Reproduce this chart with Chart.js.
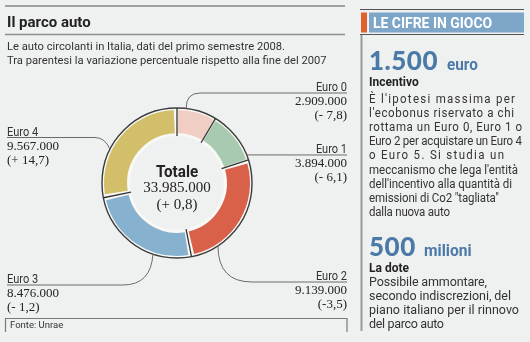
<!DOCTYPE html>
<html>
<head>
<meta charset="utf-8">
<script src="https://cdn.jsdelivr.net/npm/chart.js@4/dist/chart.umd.min.js"></script>
<style>
  html, body { margin: 0; padding: 0; background: #eff1f0; }
  #wrap { position: relative; width: 530px; height: 342px; overflow: hidden; }
  #torta, #testi { position: absolute; left: 0; top: 0; }
</style>
</head>
<body>
<div id="wrap">
  <canvas id="torta" width="350" height="342"></canvas>
  <svg id="testi" width="530" height="342" xmlns="http://www.w3.org/2000/svg"></svg>
</div>
<script>
// dati del grafico
const categorie = ['Euro 0', 'Euro 1', 'Euro 2', 'Euro 3', 'Euro 4'];
const valori = [2909000, 3894000, 9139000, 8476000, 9567000];
const variazioni = ['(- 7,8)', '(- 6,1)', '(-3,5)', '(- 1,2)', '(+ 14,7)'];
const variazioneTotale = '(+ 0,8)';

const titolo = 'Il parco auto';
const sottotitolo = [
  'Le auto circolanti in Italia, dati del primo semestre 2008.',
  'Tra parentesi la variazione percentuale rispetto alla fine del 2007'
];
const fonte = 'Fonte: Unrae';

const box = {
  testata: 'LE CIFRE IN GIOCO',
  cifra1: '1.500', unita1: 'euro', titolo1: 'Incentivo',
  testo1: [
    "È l'ipotesi massima per",
    "l'ecobonus riservato a chi",
    'rottama un Euro 0, Euro 1 o',
    'Euro 2 per acquistare un Euro 4',
    'o Euro 5. Si studia un',
    "meccanismo che lega l'entità",
    "dell'incentivo alla quantità di",
    'emissioni di Co2 "tagliata"',
    'dalla nuova auto'
  ],
  cifra2: '500', unita2: 'milioni', titolo2: 'La dote',
  testo2: [
    'Possibile ammontare,',
    'secondo indiscrezioni, del',
    'piano italiano per il rinnovo',
    'del parco auto'
  ]
};

const colori = ['#f0cec3', '#a8cab0', '#d9614a', '#86b2cf', '#d3be6a'];

// impaginazione: raccordi, etichette, larghezza delle righe di testo
const guide = [
  { ang: 7,     ctrl: [186, 93],  angolo: [200, 93],  fine: [347, 93],  lato: 'dx' },
  { ang: 68,    ctrl: null,       angolo: null,       fine: [347, 155], lato: 'dx' },
  { ang: 146.9, ctrl: [218, 282], angolo: [252, 282], fine: [347, 282], lato: 'dx' },
  { ang: 198.7, ctrl: [151, 285], angolo: [123, 285], fine: [7, 285],   lato: 'sx' },
  { ang: 296.7, ctrl: [105, 137.5], angolo: [95, 137.5], fine: [7, 137.5], lato: 'sx' }
];
const largh1 = [146, 145, 153, 153, 135, 149, 143, 130, 81];
const largh2 = [118, 142, 150, 75];

const fmt = v => v.toLocaleString('it-IT');

const decorTorta = {
  id: 'decorTorta',
  beforeDatasetsDraw(chart) {
    const a = chart.getDatasetMeta(0).data[0];
    const { x, y, innerRadius, outerRadius } = a.getProps(['x', 'y', 'innerRadius', 'outerRadius'], true);
    const ctx = chart.ctx;
    const r2 = outerRadius + 5;
    ctx.save();
    ctx.beginPath();
    ctx.arc(x, y, r2, 0, Math.PI * 2);
    ctx.arc(x, y, innerRadius, 0, Math.PI * 2, true);
    ctx.fillStyle = '#f8f8f6';
    ctx.fill();
    ctx.beginPath();
    ctx.arc(x, y, r2, 0, Math.PI * 2);
    ctx.strokeStyle = '#3c3c3c';
    ctx.lineWidth = 1.4;
    ctx.stroke();
    ctx.restore();
  },
  afterDatasetsDraw(chart) {
    const meta = chart.getDatasetMeta(0);
    const ctx = chart.ctx;
    ctx.save();
    // separatori scuri tra le fette
    ctx.strokeStyle = '#333';
    ctx.lineWidth = 1.3;
    meta.data.forEach(a => {
      const p = a.getProps(['x', 'y', 'startAngle', 'innerRadius', 'outerRadius'], true);
      const r2 = p.outerRadius + 5;
      ctx.beginPath();
      ctx.moveTo(p.x + Math.cos(p.startAngle) * p.innerRadius, p.y + Math.sin(p.startAngle) * p.innerRadius);
      ctx.lineTo(p.x + Math.cos(p.startAngle) * r2, p.y + Math.sin(p.startAngle) * r2);
      ctx.stroke();
    });
    // raccordi verso le etichette
    const c = meta.data[0].getProps(['x', 'y', 'outerRadius'], true);
    const r2 = c.outerRadius + 5;
    ctx.strokeStyle = '#6a6a6a';
    ctx.lineWidth = 1;
    guide.forEach(g => {
      const rad = g.ang * Math.PI / 180;
      ctx.beginPath();
      ctx.moveTo(c.x + Math.sin(rad) * r2, c.y - Math.cos(rad) * r2);
      if (g.ctrl) ctx.quadraticCurveTo(g.ctrl[0], g.ctrl[1], g.angolo[0], g.angolo[1]);
      ctx.lineTo(g.fine[0], g.fine[1]);
      ctx.stroke();
    });
    ctx.restore();
  }
};

const chart = new Chart(document.getElementById('torta'), {
  type: 'doughnut',
  data: {
    labels: categorie,
    datasets: [{
      data: valori,
      backgroundColor: colori,
      borderWidth: 0,
      spacing: 6
    }]
  },
  options: {
    responsive: false,
    animation: false,
    cutout: '67%',
    layout: { padding: { left: 104, right: 100, top: 110, bottom: 86 } },
    plugins: {
      legend: { display: false },
      tooltip: { enabled: false }
    }
  },
  plugins: [decorTorta]
});

// testi in SVG
const NS = 'http://www.w3.org/2000/svg';
const svg = document.getElementById('testi');
const SANS = 'Roboto, "Open Sans", sans-serif';
const SERIF = '"Liberation Serif", "DejaVu Serif", serif';

function testo(x, y, str, s) {
  const t = document.createElementNS(NS, 'text');
  const sx = s.sx || 1;
  t.setAttribute('transform', `translate(${x},${y}) scale(${sx},1)`);
  t.setAttribute('text-anchor', s.anchor || 'start');
  t.setAttribute('font-family', s.font || SANS);
  t.setAttribute('font-size', s.size);
  t.setAttribute('font-weight', s.weight || 400);
  t.setAttribute('fill', s.color || '#2b2b2b');
  if (s.ls) t.setAttribute('letter-spacing', s.ls);
  if (s.w) {
    t.setAttribute('textLength', s.w / sx);
    t.setAttribute('lengthAdjust', 'spacing');
  }
  t.textContent = str;
  svg.appendChild(t);
}
function linea(x1, y1, x2, y2, col, w) {
  const l = document.createElementNS(NS, 'line');
  l.setAttribute('x1', x1); l.setAttribute('y1', y1);
  l.setAttribute('x2', x2); l.setAttribute('y2', y2);
  l.setAttribute('stroke', col); l.setAttribute('stroke-width', w);
  svg.appendChild(l);
}
function rett(x, y, w, h, col) {
  const r = document.createElementNS(NS, 'rect');
  r.setAttribute('x', x); r.setAttribute('y', y);
  r.setAttribute('width', w); r.setAttribute('height', h);
  r.setAttribute('fill', col);
  svg.appendChild(r);
}

// parte sinistra
linea(5, 6, 345, 6, '#a0a0a0', 2);
testo(7, 26.5, titolo, { size: 15, weight: 700, sx: 1.0, color: '#222' });
linea(5, 34.5, 345, 34.5, '#8c8c8c', 1.5);
sottotitolo.forEach((r, i) => testo(7, 50 + i * 14, r, { size: 11.5, sx: 0.975, color: '#333' }));

categorie.forEach((cat, i) => {
  const g = guide[i];
  const dx = g.lato === 'dx';
  const x = dx ? 347 : 7;
  const anchor = dx ? 'end' : 'start';
  const y0 = g.fine[1];
  testo(x, y0 - 2, cat, { size: 12, sx: 0.92, anchor, color: '#333' });
  testo(x, y0 + 12, fmt(valori[i]), { size: 13, font: SERIF, anchor, color: '#222' });
  testo(x, y0 + 26, variazioni[i], { size: 13, font: SERIF, anchor, color: '#222' });
});

const cen = chart.getDatasetMeta(0).data[0];
const totale = valori.reduce((t, v) => t + v, 0);
testo(cen.x, cen.y - 6.3, 'Totale', { size: 16, weight: 700, sx: 0.95, anchor: 'middle', color: '#222' });
testo(cen.x, cen.y + 9.3, fmt(totale), { size: 15, font: SERIF, anchor: 'middle', color: '#222' });
testo(cen.x, cen.y + 26, variazioneTotale, { size: 15, font: SERIF, anchor: 'middle', color: '#222' });

// riquadro fonte
const pl = document.createElementNS(NS, 'polyline');
pl.setAttribute('points', '5.5,332 5.5,318.5 347,318.5 347,332');
pl.setAttribute('fill', 'none'); pl.setAttribute('stroke', '#7a7a7a'); pl.setAttribute('stroke-width', 1.2);
svg.appendChild(pl);
testo(10, 328, fonte, { size: 9.5, color: '#333' });

// parte destra
const BLU = '#4b7aa8';
linea(360, 9.5, 524, 9.5, '#555', 1);
rett(361, 12.5, 6, 20, '#e0622a');
rett(369, 12.5, 155, 20, '#7ea6c9');
testo(373, 27.5, box.testata, { size: 15, weight: 700, sx: 0.93, color: '#fff' });
linea(360, 34.5, 524, 34.5, '#555', 1);
linea(361.5, 35, 361.5, 331, '#9a9a9a', 2);

testo(369, 70, box.cifra1, { size: 26, weight: 900, font: 'Lato, Roboto, sans-serif', color: BLU, ls: 0.5 });
testo(447, 70, box.unita1, { size: 17, weight: 700, sx: 0.9, color: BLU });
testo(369, 86, box.titolo1, { size: 12, weight: 700, sx: 1.0, color: '#222' });
box.testo1.forEach((r, i) => testo(369, 102.5 + i * 14.2, r, { size: 12.5, sx: 0.92, w: largh1[i], color: '#333' }));

testo(369, 256, box.cifra2, { size: 26, weight: 900, font: 'Lato, Roboto, sans-serif', color: BLU, ls: 0.5 });
testo(424, 256, box.unita2, { size: 17, weight: 700, sx: 0.92, color: BLU });
testo(369, 271.7, box.titolo2, { size: 12, weight: 700, sx: 1.0, color: '#222' });
box.testo2.forEach((r, i) => testo(369, 286 + i * 14, r, { size: 12.5, w: largh2[i], color: '#333' }));
</script>
</body>
</html>
